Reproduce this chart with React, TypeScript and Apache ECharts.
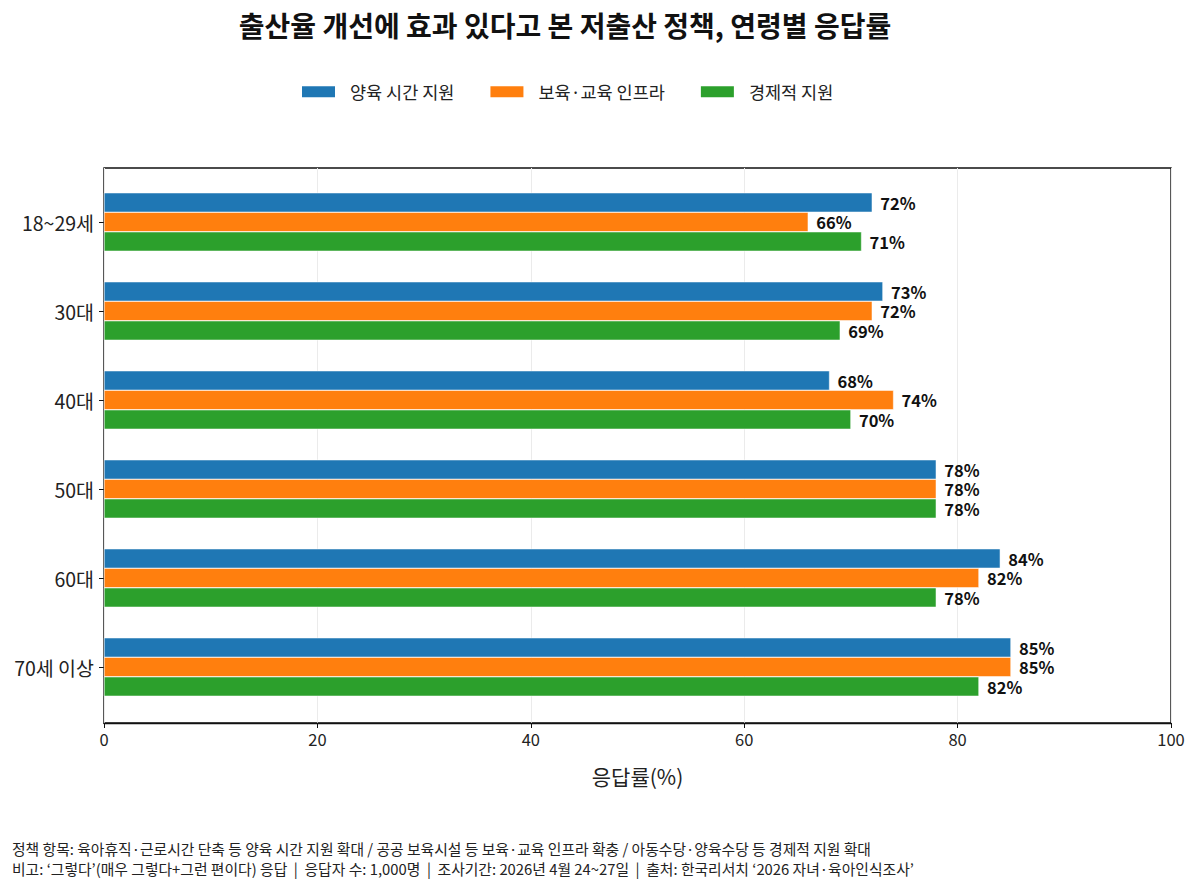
import React, { useEffect, useRef } from 'react';
import * as echarts from 'echarts';

const categories = ['18~29세', '30대', '40대', '50대', '60대', '70세 이상'];
const timeSupport = [72, 73, 68, 78, 84, 85];
const careInfra = [66, 72, 74, 78, 82, 85];
const economic = [71, 69, 70, 78, 78, 82];
const seriesNames = ['양육 시간 지원', '보육·교육 인프라', '경제적 지원'];
const colors = ['#1f77b4', '#ff7f0e', '#2ca02c'];

const FONT = "'Noto Sans CJK KR', 'Noto Sans', sans-serif";
const TITLE = '출산율 개선에 효과 있다고 본 저출산 정책, 연령별 응답률';
const NOTE1 =
  '정책 항목: 육아휴직·근로시간 단축 등 양육 시간 지원 확대 / 공공 보육시설 등 보육·교육 인프라 확충 / 아동수당·양육수당 등 경제적 지원 확대';
const NOTE2 =
  '비고: ‘그렇다’(매우 그렇다+그런 편이다) 응답  |  응답자 수: 1,000명  |  조사기간: 2026년 4월 24~27일  |  출처: 한국리서치 ‘2026 자녀·육아인식조사’';

const App: React.FC = () => {
  const chartRef = useRef<HTMLDivElement>(null);

  useEffect(() => {
    document.body.style.margin = '0';
    if (!chartRef.current) return;
    const chart = echarts.init(chartRef.current, undefined, { renderer: 'svg' });

    const values = [timeSupport, careInfra, economic];

    const option = {
      animation: false,
      textStyle: { fontFamily: FONT },
      legend: {
        top: 78,
        left: 295,
        itemWidth: 35,
        itemHeight: 13,
        itemGap: 34,
        icon: 'rect',
        textStyle: { fontSize: 17.5, color: '#222', fontFamily: FONT, padding: [0, 0, 0, 9] },
        data: seriesNames,
      },
      grid: [
        {
          left: 104,
          right: 28,
          top: 168,
          bottom: 168,
          show: true,
          borderColor: '#111',
          borderWidth: 1.4,
          backgroundColor: 'transparent',
        },
        { left: 104, right: 28, top: 177.5, bottom: 179.5 },
      ],
      xAxis: [
        {
          gridIndex: 0,
          type: 'value',
          min: 0,
          max: 100,
          interval: 20,
          axisLine: { show: true, lineStyle: { color: '#111', width: 1.4 } },
          axisTick: { show: true, length: 5, lineStyle: { color: '#111' } },
          axisLabel: { fontSize: 16.5, color: '#222', margin: 8, fontFamily: FONT },
          splitLine: { show: true, lineStyle: { color: '#ebebeb', width: 1 } },
          name: '응답률(%)',
          nameLocation: 'middle',
          nameGap: 42,
          nameTextStyle: { fontSize: 21, color: '#222', fontFamily: FONT },
        },
        { gridIndex: 1, type: 'value', min: 0, max: 100, show: false },
      ],
      yAxis: [
        { gridIndex: 0, type: 'value', show: false },
        {
          gridIndex: 1,
          type: 'category',
          inverse: true,
          data: categories,
          axisLine: { show: false },
          axisTick: { show: true, alignWithLabel: true, length: 5, lineStyle: { color: '#111' } },
          axisLabel: { fontSize: 19.5, color: '#222', margin: 10, fontFamily: FONT },
        },
      ],
      series: seriesNames.map((name, i) => ({
        name,
        type: 'bar',
        xAxisIndex: 1,
        yAxisIndex: 1,
        data: values[i],
        barWidth: 19.5,
        barGap: '0%',
        itemStyle: { color: colors[i], borderColor: '#fff', borderWidth: 0.5 },
        label: {
          show: true,
          position: 'right',
          distance: 8,
          formatter: '{c}%',
          fontSize: 16.5,
          fontWeight: 'bold',
          color: '#111',
          fontFamily: FONT,
        },
      })),
      graphic: [
        {
          type: 'text',
          x: 565,
          y: 25,
          style: {
            text: TITLE,
            textAlign: 'center',
            textVerticalAlign: 'middle',
            fontSize: 28,
            fontWeight: 'bold',
            fill: '#111',
            fontFamily: FONT,
          },
        },
        {
          type: 'text',
          x: 12,
          y: 848,
          style: { text: NOTE1, textVerticalAlign: 'middle', fontSize: 14.8, fill: '#222', fontFamily: FONT },
        },
        {
          type: 'text',
          x: 12,
          y: 868,
          style: { text: NOTE2, textVerticalAlign: 'middle', fontSize: 14.8, fill: '#222', fontFamily: FONT },
        },
      ],
    };

    chart.setOption(option);
    return () => {
      chart.dispose();
    };
  }, []);

  return <div ref={chartRef} style={{ width: 1199, height: 891 }} />;
};

export default App;
